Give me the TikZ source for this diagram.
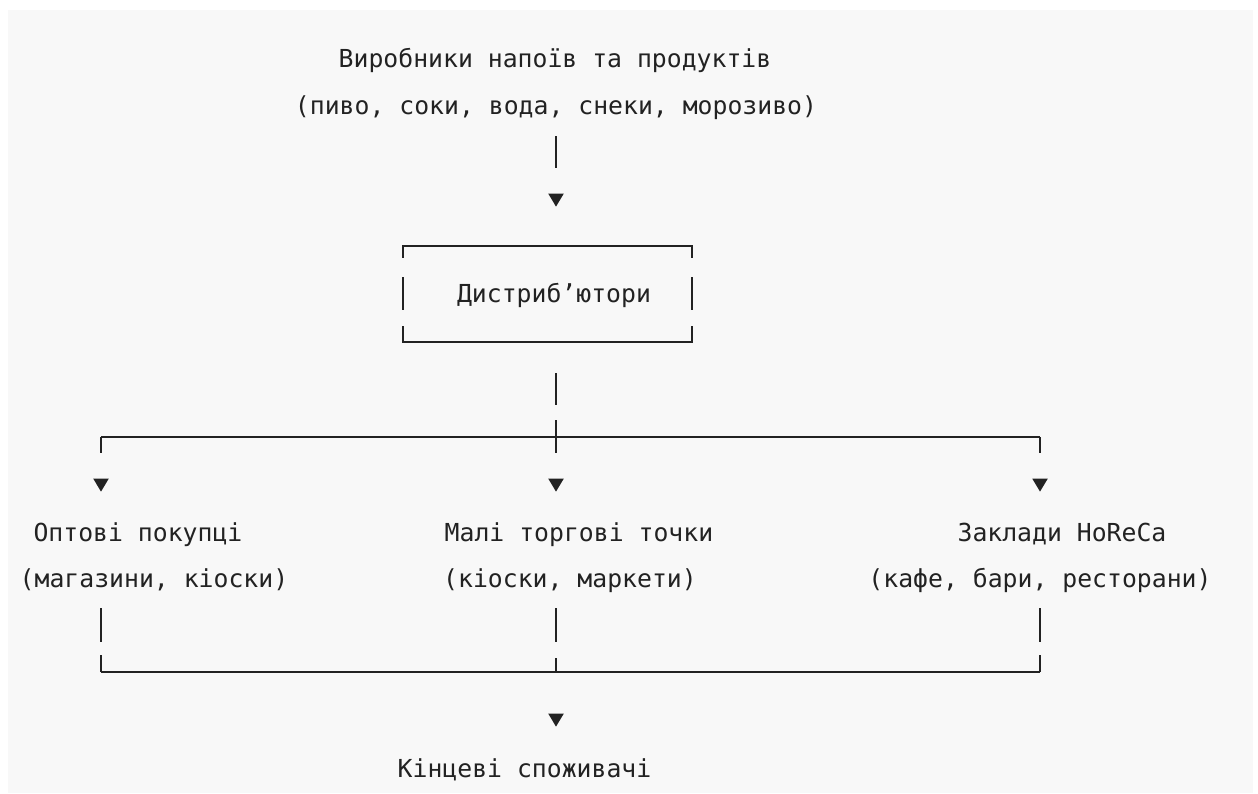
\documentclass[tikz,border=0pt]{standalone}
\usepackage{fontspec}
\usepackage{tikz}
\usetikzlibrary{arrows.meta, calc}
\newfontfamily\monofnt{DejaVu Sans Mono}
\newcommand{\diagfont}{\monofnt\fontsize{14.1pt}{17pt}\selectfont}
\definecolor{pagebg}{HTML}{F8F8F8}
\definecolor{inkgray}{HTML}{222222}
\tikzset{
    txt/.style={
        font=\diagfont, text=inkgray, inner sep=0pt, anchor=base,
        text height=0.40cm, text depth=0.12cm
    },
    dist_box/.style={
        font=\diagfont, text=inkgray, inner sep=0pt,
        minimum width=5.78cm, minimum height=1.92cm,
        text height=0.48cm, text depth=0.12cm
    },
    wire/.style={
        draw=inkgray, line width=1.1pt
    },
    feed_arrow/.style={
        wire, -{Triangle[width=0.30cm, length=0.26cm]}
    }
}

\begin{document}
\begin{tikzpicture}
\useasboundingbox (0,0) rectangle (25.16,-15.88);
\fill[pagebg] (0.16,-0.20) rectangle (25.06,-15.86);

\node[txt] (prod) at (11.10, -1.36) {Виробники напоїв та продуктів};
\node[txt] (prod_sub) at (11.12, -2.30) {(пиво, соки, вода, снеки, морозиво)};

\node[dist_box] (dist) at (10.95, -5.88) {\hspace{0.26cm}Дистриб’ютори};

\node[txt] (whole) at (2.76, -10.82) {Оптові покупці};
\node[txt] (whole_sub) at (3.08, -11.74) {(магазини, кіоски)};
\node[txt] (shop) at (11.58, -10.82) {Малі торгові точки};
\node[txt] (shop_sub) at (11.40, -11.74) {(кіоски, маркети)};
\node[txt] (horeca) at (21.24, -10.82) {Заклади HoReCa};
\node[txt] (horeca_sub) at (20.80, -11.74) {(кафе, бари, ресторани)};

\node[txt] (cons) at (10.49, -15.54) {Кінцеві споживачі};

\coordinate (bus) at (11.12, -8.74);
\coordinate (bus_l) at (2.02, -8.74);
\coordinate (bus_r) at (20.80, -8.74);
\coordinate (sink_l) at (2.02, -13.44);
\coordinate (sink_c) at (11.12, -13.44);
\coordinate (sink_r) at (20.80, -13.44);

% broken frame of the distributor box
\draw[wire] ([yshift=-0.24cm]dist.north west) -- (dist.north west) -- (dist.north east) -- ([yshift=-0.24cm]dist.north east);
\draw[wire] ([yshift=0.32cm]dist.south west) -- (dist.south west) -- (dist.south east) -- ([yshift=0.32cm]dist.south east);
\draw[wire] ([yshift=0.33cm]dist.west) -- ([yshift=-0.33cm]dist.west);
\draw[wire] ([yshift=0.33cm]dist.east) -- ([yshift=-0.33cm]dist.east);

\draw[feed_arrow, dash pattern=on 0.64cm off 3cm, shorten <=0.30cm, shorten >=0.78cm] (prod_sub.south) -- (prod_sub.south |- dist.north);
\draw[feed_arrow, dash pattern=on 0.64cm off 0.30cm on 0.66cm off 3cm, shorten <=0.62cm, shorten >=0.58cm] (bus |- dist.south) -- (bus |- shop.north);

\draw[wire] (bus_l) -- (bus_r);
\draw[feed_arrow, dash pattern=on 0.32cm off 3cm, shorten >=0.58cm] (bus_l) -- (bus_l |- whole.north);
\draw[feed_arrow, dash pattern=on 0.32cm off 3cm, shorten >=0.58cm] (bus_r) -- (bus_r |- horeca.north);

\draw[wire, dash pattern=on 0.68cm off 0.26cm on 1cm, shorten <=0.30cm] (sink_l |- whole_sub.south) -- (sink_l);
\draw[wire, dash pattern=on 0.68cm off 0.32cm on 1cm, shorten <=0.30cm] (sink_c |- shop_sub.south) -- (sink_c);
\draw[wire, dash pattern=on 0.68cm off 0.26cm on 1cm, shorten <=0.30cm] (sink_r |- horeca_sub.south) -- (sink_r);
\draw[wire] (sink_l) -- (sink_r);

\draw[feed_arrow, dash pattern=on 0pt off 3cm, shorten >=0.60cm] (sink_c) -- (sink_c |- cons.north);
\end{tikzpicture}
\end{document}
